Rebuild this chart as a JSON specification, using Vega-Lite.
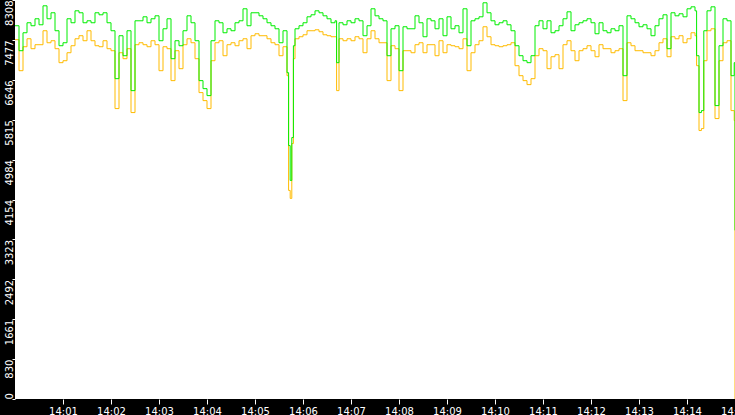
{
  "$schema": "https://vega.github.io/schema/vega-lite/v6.json",
  "width": 720,
  "height": 399,
  "autosize": {"type": "none"},
  "padding": {"left": 15, "top": 0, "right": 0, "bottom": 16},
  "background": "#000000",
  "config": {
    "view": {"fill": "#ffffff", "stroke": null},
    "axis": {"labelFont": "DejaVu Sans", "labelColor": "#ffffff", "tickColor": "#ffffff", "domain": false, "grid": false, "title": null, "labelFlush": false, "labelOverlap": false, "labelBound": false}
  },
  "data": {
    "values": [
      {"t": 0, "g": 7772, "o": 7481}, {"t": 5, "g": 7252, "o": 6836}, {"t": 10, "g": 7626, "o": 7335},
      {"t": 15, "g": 7834, "o": 7501}, {"t": 20, "g": 7772, "o": 7294}, {"t": 25, "g": 7917, "o": 7377},
      {"t": 30, "g": 7792, "o": 7377}, {"t": 35, "g": 8187, "o": 7668}, {"t": 40, "g": 7917, "o": 7418},
      {"t": 45, "g": 8042, "o": 7460}, {"t": 50, "g": 7668, "o": 7294}, {"t": 55, "g": 7356, "o": 7003},
      {"t": 60, "g": 7418, "o": 7044}, {"t": 65, "g": 7917, "o": 7210}, {"t": 70, "g": 7834, "o": 7356},
      {"t": 75, "g": 8083, "o": 7501}, {"t": 80, "g": 8042, "o": 7564}, {"t": 85, "g": 7834, "o": 7460},
      {"t": 90, "g": 7875, "o": 7668}, {"t": 95, "g": 7834, "o": 7460}, {"t": 100, "g": 8042, "o": 7356},
      {"t": 105, "g": 8000, "o": 7335}, {"t": 110, "g": 8042, "o": 7460}, {"t": 115, "g": 7834, "o": 7294},
      {"t": 120, "g": 7668, "o": 7252}, {"t": 125, "g": 6670, "o": 6047}, {"t": 130, "g": 7564, "o": 7210},
      {"t": 135, "g": 7148, "o": 7086}, {"t": 140, "g": 7668, "o": 7294}, {"t": 145, "g": 6421, "o": 5964},
      {"t": 150, "g": 7875, "o": 7377}, {"t": 155, "g": 7875, "o": 7418}, {"t": 160, "g": 7958, "o": 7377},
      {"t": 165, "g": 7834, "o": 7335}, {"t": 170, "g": 7917, "o": 7460}, {"t": 175, "g": 7979, "o": 7377},
      {"t": 180, "g": 7460, "o": 6836}, {"t": 185, "g": 7709, "o": 7335}, {"t": 190, "g": 7917, "o": 7294},
      {"t": 195, "g": 7086, "o": 6629}, {"t": 200, "g": 7460, "o": 7252}, {"t": 205, "g": 7356, "o": 6878},
      {"t": 210, "g": 7668, "o": 7377}, {"t": 215, "g": 7979, "o": 7501}, {"t": 220, "g": 7834, "o": 7418},
      {"t": 225, "g": 7460, "o": 7086}, {"t": 230, "g": 6629, "o": 6380}, {"t": 235, "g": 6462, "o": 6213},
      {"t": 240, "g": 6317, "o": 6047}, {"t": 245, "g": 7460, "o": 7044}, {"t": 250, "g": 7875, "o": 7418},
      {"t": 255, "g": 7834, "o": 7460}, {"t": 260, "g": 7626, "o": 7148}, {"t": 265, "g": 7709, "o": 7377},
      {"t": 270, "g": 7668, "o": 7418}, {"t": 275, "g": 7834, "o": 7356}, {"t": 280, "g": 7875, "o": 7460},
      {"t": 285, "g": 8125, "o": 7501}, {"t": 290, "g": 7772, "o": 7294}, {"t": 295, "g": 8042, "o": 7564},
      {"t": 300, "g": 8042, "o": 7605}, {"t": 305, "g": 7979, "o": 7564}, {"t": 310, "g": 7917, "o": 7564},
      {"t": 315, "g": 7834, "o": 7501}, {"t": 320, "g": 7772, "o": 7418}, {"t": 325, "g": 7709, "o": 7377},
      {"t": 330, "g": 7418, "o": 7148}, {"t": 335, "g": 7668, "o": 7335}, {"t": 340, "g": 6795, "o": 6732},
      {"t": 342, "g": 5277, "o": 4343}, {"t": 344, "g": 4551, "o": 4177}, {"t": 346, "g": 5444, "o": 5319},
      {"t": 348, "g": 7356, "o": 7086}, {"t": 350, "g": 7709, "o": 7501}, {"t": 355, "g": 7772, "o": 7543},
      {"t": 360, "g": 7834, "o": 7584}, {"t": 365, "g": 7958, "o": 7668}, {"t": 370, "g": 8000, "o": 7668},
      {"t": 375, "g": 8083, "o": 7688}, {"t": 380, "g": 8042, "o": 7647}, {"t": 385, "g": 7979, "o": 7584},
      {"t": 390, "g": 7917, "o": 7564}, {"t": 395, "g": 7834, "o": 7543}, {"t": 400, "g": 7875, "o": 7543},
      {"t": 402, "g": 7003, "o": 6421}, {"t": 405, "g": 7834, "o": 7501}, {"t": 410, "g": 7792, "o": 7460},
      {"t": 415, "g": 7875, "o": 7501}, {"t": 420, "g": 7834, "o": 7460}, {"t": 425, "g": 7917, "o": 7543},
      {"t": 430, "g": 7875, "o": 7501}, {"t": 435, "g": 7564, "o": 7210}, {"t": 440, "g": 7772, "o": 7501},
      {"t": 445, "g": 8125, "o": 7668}, {"t": 450, "g": 7979, "o": 7501}, {"t": 455, "g": 7917, "o": 7418},
      {"t": 460, "g": 7875, "o": 7418}, {"t": 465, "g": 7148, "o": 6629}, {"t": 470, "g": 7709, "o": 7356},
      {"t": 475, "g": 7772, "o": 7294}, {"t": 480, "g": 6836, "o": 6421}, {"t": 485, "g": 7751, "o": 7252},
      {"t": 490, "g": 7709, "o": 7252}, {"t": 495, "g": 7709, "o": 7210}, {"t": 500, "g": 7979, "o": 7377},
      {"t": 505, "g": 7834, "o": 7418}, {"t": 510, "g": 7543, "o": 7210}, {"t": 515, "g": 7917, "o": 7377},
      {"t": 520, "g": 7875, "o": 7377}, {"t": 525, "g": 7709, "o": 7148}, {"t": 530, "g": 7917, "o": 7460},
      {"t": 535, "g": 7564, "o": 7210}, {"t": 540, "g": 7958, "o": 7377}, {"t": 545, "g": 7709, "o": 7356},
      {"t": 550, "g": 7772, "o": 7335}, {"t": 555, "g": 7626, "o": 7294}, {"t": 560, "g": 8125, "o": 7501},
      {"t": 565, "g": 7356, "o": 6836}, {"t": 570, "g": 7875, "o": 7210}, {"t": 575, "g": 7917, "o": 7377},
      {"t": 580, "g": 7958, "o": 7460}, {"t": 585, "g": 8250, "o": 7751}, {"t": 590, "g": 8042, "o": 7543},
      {"t": 595, "g": 7875, "o": 7377}, {"t": 600, "g": 7792, "o": 7356}, {"t": 605, "g": 7834, "o": 7335},
      {"t": 610, "g": 7875, "o": 7356}, {"t": 615, "g": 7792, "o": 7377}, {"t": 620, "g": 7668, "o": 7418},
      {"t": 625, "g": 7356, "o": 6940}, {"t": 630, "g": 7148, "o": 6732}, {"t": 635, "g": 7044, "o": 6629},
      {"t": 640, "g": 7003, "o": 6546}, {"t": 645, "g": 7148, "o": 6670}, {"t": 650, "g": 7772, "o": 7148},
      {"t": 655, "g": 7875, "o": 7294}, {"t": 660, "g": 7709, "o": 7252}, {"t": 665, "g": 7875, "o": 6878},
      {"t": 670, "g": 7626, "o": 7127}, {"t": 675, "g": 7668, "o": 7169}, {"t": 680, "g": 7772, "o": 6878},
      {"t": 685, "g": 7917, "o": 7377}, {"t": 690, "g": 8062, "o": 7460}, {"t": 695, "g": 7668, "o": 7252},
      {"t": 700, "g": 7792, "o": 7044}, {"t": 705, "g": 7834, "o": 7252}, {"t": 710, "g": 7875, "o": 7294},
      {"t": 715, "g": 7917, "o": 7356}, {"t": 720, "g": 7834, "o": 7252}, {"t": 725, "g": 7605, "o": 7127},
      {"t": 730, "g": 7834, "o": 7377}, {"t": 735, "g": 7668, "o": 7294}, {"t": 740, "g": 7626, "o": 7294},
      {"t": 745, "g": 7709, "o": 7210}, {"t": 750, "g": 7668, "o": 7252}, {"t": 755, "g": 7772, "o": 7294},
      {"t": 760, "g": 6732, "o": 6213}, {"t": 765, "g": 7979, "o": 7418}, {"t": 770, "g": 7917, "o": 7356},
      {"t": 775, "g": 7834, "o": 7252}, {"t": 780, "g": 7751, "o": 7252}, {"t": 785, "g": 7792, "o": 7210},
      {"t": 790, "g": 7709, "o": 7210}, {"t": 795, "g": 7564, "o": 7148}, {"t": 800, "g": 7772, "o": 7252},
      {"t": 805, "g": 7917, "o": 7418}, {"t": 810, "g": 8000, "o": 7501}, {"t": 815, "g": 7294, "o": 7127},
      {"t": 820, "g": 8042, "o": 7543}, {"t": 825, "g": 7979, "o": 7501}, {"t": 830, "g": 8021, "o": 7564},
      {"t": 835, "g": 7958, "o": 7418}, {"t": 840, "g": 8125, "o": 7501}, {"t": 845, "g": 8166, "o": 7626},
      {"t": 850, "g": 8083, "o": 7564}, {"t": 852, "g": 7148, "o": 6940}, {"t": 855, "g": 5964, "o": 5590},
      {"t": 858, "g": 6005, "o": 5631}, {"t": 861, "g": 7668, "o": 7044}, {"t": 865, "g": 8083, "o": 7668},
      {"t": 870, "g": 8166, "o": 7709}, {"t": 875, "g": 6109, "o": 5839}, {"t": 880, "g": 7356, "o": 7044},
      {"t": 885, "g": 7917, "o": 7418}, {"t": 890, "g": 7875, "o": 7460}, {"t": 895, "g": 6732, "o": 6005},
      {"t": 899, "g": 7003, "o": 5797}, {"t": 900, "g": 3512, "o": 0}
    ]
  },
  "transform": [{"fold": ["o", "g"], "as": ["series", "value"]}],
  "mark": {"type": "line", "interpolate": "step-after", "strokeWidth": 1},
  "encoding": {
    "x": {
      "field": "t",
      "type": "quantitative",
      "scale": {"domain": [0, 900], "nice": false, "zero": false},
      "axis": {
        "values": [60, 120, 180, 240, 300, 360, 420, 480, 540, 600, 660, 720, 780, 840, 900],
        "labelExpr": "'14:' + (datum.value / 60 < 10 ? '0' : '') + (datum.value / 60)",
        "tickSize": 5,
        "labelPadding": 2,
        "labelFontSize": 10
      }
    },
    "y": {
      "field": "value",
      "type": "quantitative",
      "scale": {"domain": [0, 8308], "nice": false},
      "axis": {
        "values": [0, 830.8, 1661.6, 2492.4, 3323.2, 4154, 4984.8, 5815.6, 6646.4, 7477.2, 8308],
        "labelExpr": "floor(datum.value) + ''",
        "tickSize": 3,
        "labelPadding": 0,
        "labelAngle": 270,
        "labelAlign": {"condition": {"test": "datum.value == 0", "value": "left"}, "value": "right"},
        "labelBaseline": "alphabetic",
        "labelFontSize": 10,
        "labelOverlap": false,
        "labelSeparation": 0
      }
    },
    "color": {
      "field": "series",
      "type": "nominal",
      "scale": {"domain": ["o", "g"], "range": ["#ffbb00", "#00ee00"]},
      "legend": null
    }
  }
}
